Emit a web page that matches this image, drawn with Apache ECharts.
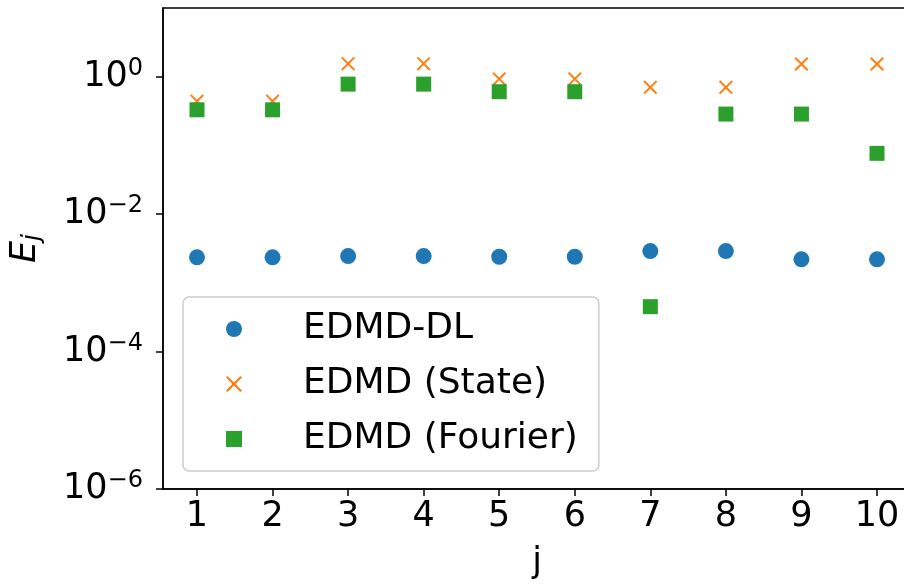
<!DOCTYPE html>
<html><head><meta charset="utf-8">
<script src="https://cdn.jsdelivr.net/npm/echarts@6/dist/echarts.min.js"></script>
<style>html,body{margin:0;padding:0;background:#fff}#c{width:904px;height:585px}</style>
</head><body><div id="c"></div>
<script>
const categories = [1, 2, 3, 4, 5, 6, 7, 8, 9, 10];
const edmdDL = [2.35e-3, 2.35e-3, 2.45e-3, 2.45e-3, 2.4e-3, 2.4e-3, 2.9e-3, 2.9e-3, 2.2e-3, 2.2e-3];
const edmdState = [0.44, 0.44, 1.55, 1.55, 0.93, 0.93, 0.70, 0.70, 1.53, 1.53];
const edmdFourier = [0.33, 0.33, 0.78, 0.78, 0.605, 0.605, 4.5e-4, 0.286, 0.286, 0.0767];
const yTickValues = [1e-6, 1e-4, 1e-2, 1];
const seriesNames = ['EDMD-DL', 'EDMD (State)', 'EDMD (Fourier)'];

const FONT = 'DejaVu Sans';
const crossPath = 'path://M-1,-0.8 L-0.8,-1 L0,-0.2 L0.8,-1 L1,-0.8 L0.2,0 L1,0.8 L0.8,1 L0,0.2 L-0.8,1 L-1,0.8 L-0.2,0 Z';
const pairs = arr => categories.map((c, i) => [c, arr[i]]);

const chart = echarts.init(document.getElementById('c'), null, {renderer: 'canvas'});
chart.setOption({
  backgroundColor: '#ffffff',
  animation: false,
  grid: {left: 163, right: -7, top: 8, bottom: 96, show: true, borderColor: '#000', borderWidth: 1.5,
         containLabel: false, outerBoundsMode: 'none'},
  xAxis: {
    type: 'value', min: 0.55, max: 10.45,
    name: 'j', nameLocation: 'middle', nameGap: 56,
    nameTextStyle: {fontFamily: FONT, fontSize: 35, color: '#000'},
    axisLine: {show: true, onZero: false, lineStyle: {color: '#000', width: 1.5}},
    axisTick: {show: true, length: 7, lineStyle: {color: '#000', width: 1.5}, customValues: categories},
    axisLabel: {fontFamily: FONT, fontSize: 35, color: '#000', margin: 10, customValues: categories},
    splitLine: {show: false}
  },
  yAxis: {
    type: 'log', logBase: 10, min: 1e-6, max: 10,
    name: '{e|E}{s|j}', nameLocation: 'middle', nameGap: 118, nameRotate: 90,
    nameTextStyle: {
      fontFamily: FONT, color: '#000',
      rich: {
        e: {fontFamily: FONT, fontSize: 35, fontStyle: 'italic', color: '#000'},
        s: {fontFamily: FONT, fontSize: 25, fontStyle: 'italic', color: '#000', padding: [14, 0, 0, 0]}
      }
    },
    axisLine: {show: true, lineStyle: {color: '#000', width: 1.5}},
    axisTick: {show: true, length: 7, lineStyle: {color: '#000', width: 1.5}, customValues: yTickValues},
    axisLabel: {
      margin: 20, customValues: yTickValues,
      formatter: v => {
        const e = Math.round(Math.log10(v));
        return '{b|10}{s|' + (e < 0 ? '\u2212' : '') + Math.abs(e) + '}';
      },
      rich: {
        b: {fontFamily: FONT, fontSize: 35, color: '#000', lineHeight: 36},
        s: {fontFamily: FONT, fontSize: 24, color: '#000', lineHeight: 24, padding: [0, 0, 16, 0]}
      }
    },
    splitLine: {show: false}
  },
  legend: {
    orient: 'vertical', left: 183, top: 297,
    padding: [14, 21, 14, 43], itemGap: 19,
    itemWidth: 16, itemHeight: 16,
    backgroundColor: 'rgba(255,255,255,0.8)', borderColor: '#cccccc', borderWidth: 1.5, borderRadius: 6,
    textStyle: {fontFamily: FONT, fontSize: 36, color: '#000', lineHeight: 36, padding: [0, 0, 0, 56]},
    data: [
      {name: seriesNames[0], icon: 'circle'},
      {name: seriesNames[1], icon: crossPath},
      {name: seriesNames[2], icon: 'rect'}
    ]
  },
  series: [
    {name: seriesNames[0], type: 'scatter', data: pairs(edmdDL), symbol: 'circle', symbolSize: 16,
     itemStyle: {color: '#1f77b4', opacity: 1}},
    {name: seriesNames[1], type: 'scatter', data: pairs(edmdState), symbol: crossPath, symbolSize: 14,
     itemStyle: {color: '#ff7f0e', opacity: 1}},
    {name: seriesNames[2], type: 'scatter', data: pairs(edmdFourier), symbol: 'rect', symbolSize: 15,
     itemStyle: {color: '#2ca02c', opacity: 1}}
  ]
});
</script></body></html>
